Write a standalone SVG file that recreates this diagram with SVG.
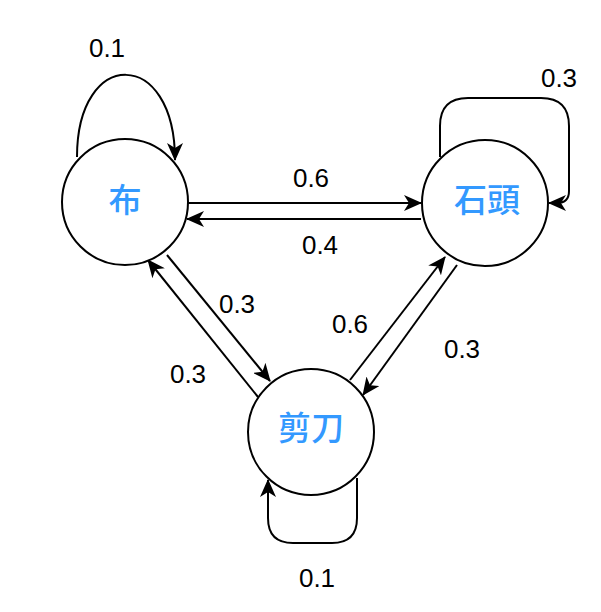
<svg xmlns="http://www.w3.org/2000/svg" width="601" height="612" viewBox="0 0 601 612">
<style>
.node circle{fill:#ffffff;stroke:#000000;stroke-width:2}
.node text{font-family:"Noto Sans CJK TC","Noto Sans CJK SC",sans-serif;font-size:33px;font-weight:500;fill:#3399ff;text-anchor:middle}
.edge{fill:none;stroke:#000000;stroke-width:2;marker-end:url(#arrow)}
.lbl{font-family:"Liberation Sans",Arial,sans-serif;font-size:26px;fill:#000000;text-anchor:middle}
</style>
<defs>
<marker id="arrow" viewBox="0 0 18 16" refX="17" refY="8" markerWidth="18" markerHeight="16" markerUnits="userSpaceOnUse" orient="auto">
<path d="M0,0 L18,8 L0,16 L5,8 Z" fill="#000000"/>
</marker>
</defs>
<g id="connectors">
<path class="edge" d="M77 157 C77 47 175 47 175 160"/>
<path class="edge" d="M440 157 L440 126 Q440 98 468 98 L541 98 Q569 98 569 126 L569 191 Q569 203 557 203 L549 203"/>
<path class="edge" d="M357 478 L357 518 Q357 543 332 543 L293 543 Q268 543 268 518 L268 480"/>
<path class="edge" d="M188 203 L421 203"/>
<path class="edge" d="M421 219 L187 219"/>
<path class="edge" d="M167 255 L270 381"/>
<path class="edge" d="M258 397 L148 260"/>
<path class="edge" d="M350 380 L445 257"/>
<path class="edge" d="M457 265 L363 395"/>
</g>
<g id="node-bu" class="node"><circle cx="125" cy="202" r="63"/><text x="125" y="212">布</text></g>
<g id="node-shitou" class="node"><circle cx="485" cy="203" r="63"/><text x="487" y="212">石頭</text></g>
<g id="node-jiandao" class="node"><circle cx="311" cy="432" r="63"/><text x="311" y="440">剪刀</text></g>
<g id="labels">
<text class="lbl" x="107" y="57">0.1</text>
<text class="lbl" x="559" y="87">0.3</text>
<text class="lbl" x="311" y="187">0.6</text>
<text class="lbl" x="320" y="254">0.4</text>
<text class="lbl" x="237" y="313">0.3</text>
<text class="lbl" x="188" y="383">0.3</text>
<text class="lbl" x="350" y="333">0.6</text>
<text class="lbl" x="462" y="358">0.3</text>
<text class="lbl" x="317" y="587">0.1</text>
</g>
</svg>
